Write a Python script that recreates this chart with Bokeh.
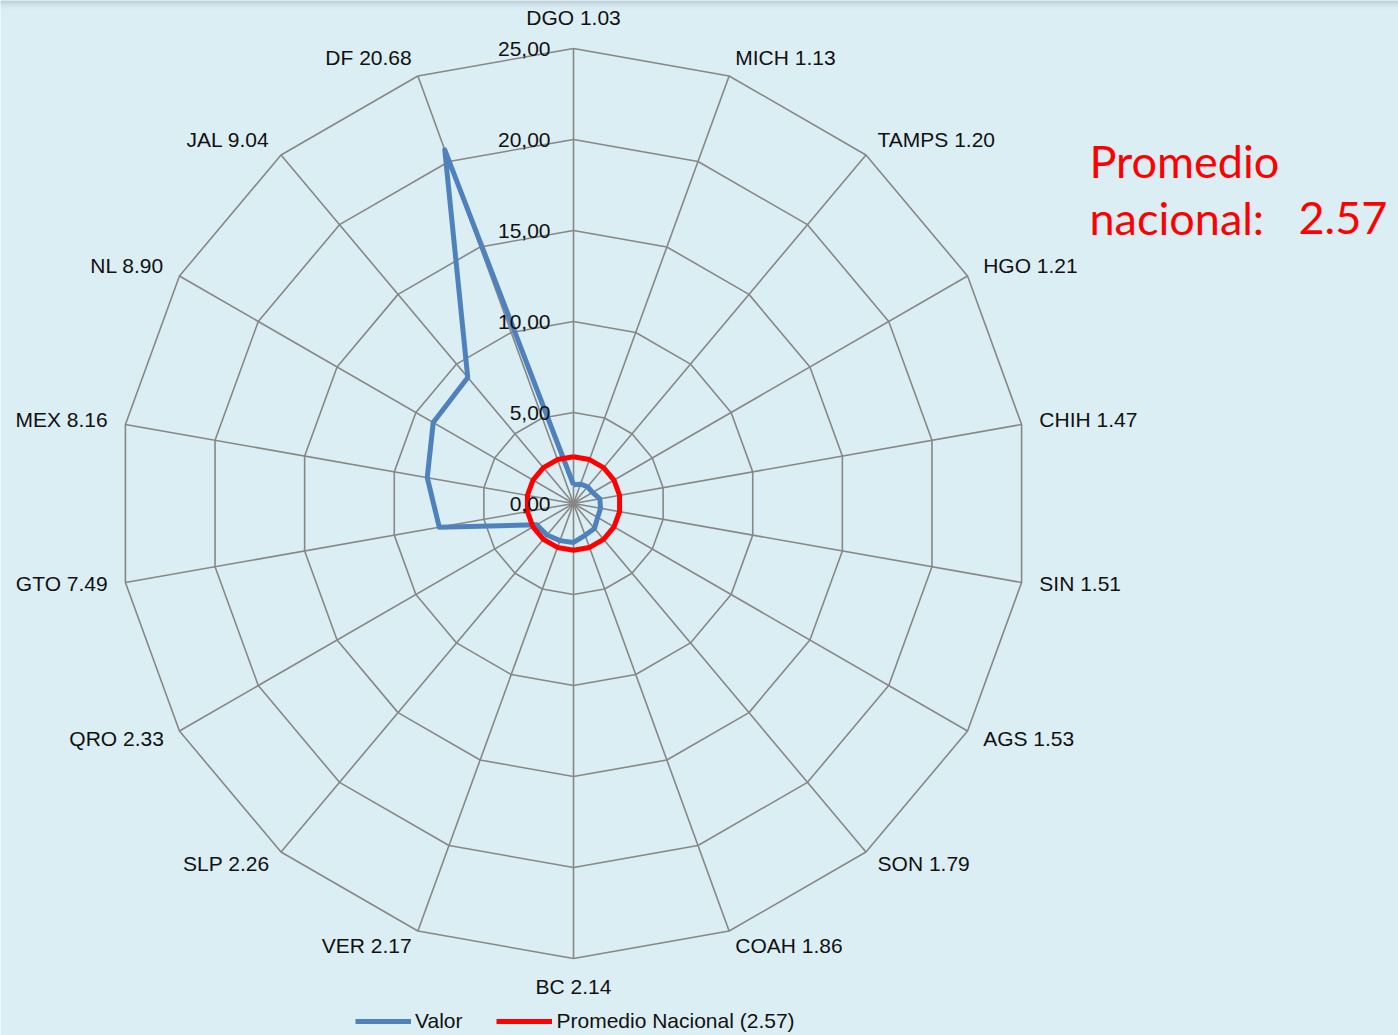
import numpy as np
from bokeh.plotting import figure
from bokeh.models import Range1d, Legend, LegendItem, Label
from bokeh.embed import file_html
from bokeh.resources import INLINE
from bokeh.core.properties import value

# ---------------- data ----------------
states = ["DGO", "MICH", "TAMPS", "HGO", "CHIH", "SIN", "AGS", "SON", "COAH",
          "BC", "VER", "SLP", "QRO", "GTO", "MEX", "NL", "JAL", "DF"]
valores = [1.03, 1.13, 1.20, 1.21, 1.47, 1.51, 1.53, 1.79, 1.86,
           2.14, 2.17, 2.26, 2.33, 7.49, 8.16, 8.90, 9.04, 20.68]
promedio = 2.57
ticks = [0, 5, 10, 15, 20, 25]
tick_labels = ["0,00", "5,00", "10,00", "15,00", "20,00", "25,00"]

# ---------------- layout ----------------
W, H = 1398, 1035
CX, CY = 573, 503          # centre of the radar in page pixels
PX = 18.2                  # pixels per value unit
RMAX = ticks[-1]
FONT = "Liberation Sans"
BG = "#DBEEF4"
GRID = "#878787"

n = len(states)
ang = np.pi / 2 - 2 * np.pi * np.arange(n) / n
cs, sn = np.cos(ang), np.sin(ang)


def closed(arr):
    arr = list(arr)
    return arr + [arr[0]]


p = figure(width=W, height=H,
           x_range=Range1d(-CX / PX, (W - CX) / PX),
           y_range=Range1d(-(H - CY) / PX, CY / PX),
           output_backend="svg", toolbar_location=None,
           x_axis_location=None, y_axis_location=None,
           min_border=0, outline_line_color=None,
           background_fill_color=BG, border_fill_color=BG)
p.grid.visible = False

# soft shadow band along the top edge
top = CY / PX
shade = ["#B2C3CB", "#B9CAD2", "#C0D1D9", "#C6D7DF", "#CBDDE5", "#D0E2EA",
         "#D4E6EE", "#D7E9F1", "#D9ECF3"]
for i, c in enumerate(shade):
    p.quad(left=-CX / PX, right=(W - CX) / PX, top=top - i / PX,
           bottom=top - (i + 1) / PX, fill_color=c, line_color=None)

# grid rings
for t in ticks[1:]:
    p.line(closed(t * cs), closed(t * sn), line_color=GRID, line_width=1.6)
# spokes
p.segment(x0=np.zeros(n), y0=np.zeros(n), x1=RMAX * cs, y1=RMAX * sn,
          line_color=GRID, line_width=1.6)

# series
v = np.array(valores)
blue = p.line(closed(v * cs), closed(v * sn), line_color="#4F81BD",
              line_width=5, line_join="round")
red = p.line(closed(promedio * cs), closed(promedio * sn), line_color="#FF0000",
             line_width=5, line_join="round")

# tick labels
p.text(x=[-23 / PX] * len(ticks), y=ticks, text=tick_labels,
       text_align="right", text_baseline="middle",
       text_font=value(FONT), text_font_size="21px", text_color="#111111")

# category labels
off = RMAX + 18 / PX
aligns = ["center" if abs(c) < 0.01 else ("left" if c > 0 else "right") for c in cs]
bases = ["bottom" if s > 0.99 else ("top" if s < -0.99 else "middle") for s in sn]
labels = [f"{s} {val:.2f}" for s, val in zip(states, valores)]
p.text(x=off * cs, y=off * sn + 2 / PX, text=labels, text_align=aligns, text_baseline=bases,
       text_font=value(FONT), text_font_size="21px", text_color="#111111")

# annotation
for txt, x, y in [("Promedio", 1089, 160), ("nacional:", 1089, 217), ("2.57", 1298, 217)]:
    p.add_layout(Label(x=(x - CX) / PX, y=(CY - y) / PX, text=txt,
                       text_color="#FF0000", text_font="Lato",
                       text_font_size="45px", text_baseline="middle"))

legend = Legend(items=[LegendItem(label="Valor", renderers=[blue]),
                       LegendItem(label=f"Promedio Nacional ({promedio})", renderers=[red])],
                orientation="horizontal", location=(355, 2),
                glyph_width=56, glyph_height=20, label_standoff=4, spacing=34,
                padding=0, margin=0, border_line_color=None, background_fill_alpha=0,
                label_text_font=FONT, label_text_font_size="21px",
                label_text_color="#111111")
p.add_layout(legend)

html = file_html(p, INLINE, title="Radar")
html = html.replace("<body>", '<body style="margin:0;overflow:hidden;background:#DBEEF4">', 1)
open("out.html", "w").write(html)
